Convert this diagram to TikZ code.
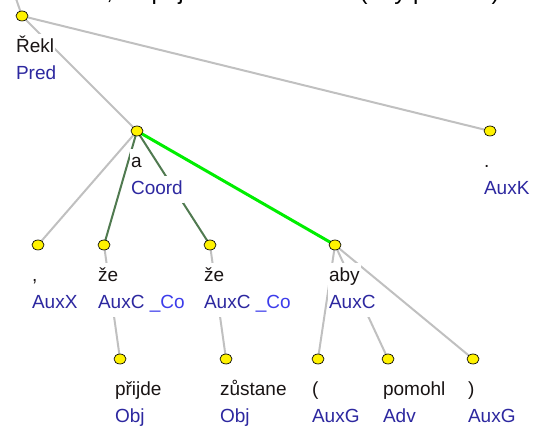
\documentclass[tikz,border=0pt]{standalone}
\usepackage{fontspec}
\setmainfont{Liberation Sans}
\usetikzlibrary{shapes.geometric}
\definecolor{edgegray}{RGB}{192,192,192}
\definecolor{coordgreen}{RGB}{80,122,80}
\definecolor{selgreen}{RGB}{0,238,0}
\definecolor{wordc}{RGB}{25,20,20}
\definecolor{tagc}{RGB}{45,40,160}
\definecolor{tagcb}{RGB}{60,60,235}
\begin{document}
\begin{tikzpicture}[x=0.75pt,y=-0.75pt,
  tnode/.style={shape=ellipse, minimum width=9pt, minimum height=7.5pt, inner sep=0pt,
    draw=black, line width=0.5pt, fill=yellow},
  lblbox/.style={anchor=base west, fill=white, inner xsep=0.6pt, inner ysep=0.4pt,
    text height=14pt, text depth=5.6pt, font=\fontsize{14.25pt}{20.25pt}\selectfont},
  wordlbl/.style={lblbox, text=wordc},
  taglbl/.style={lblbox, text=tagc},
  gedge/.style={draw=edgegray, line width=1.5pt},
  cedge/.style={draw=coordgreen, line width=1.5pt},
  sedge/.style={draw=selgreen, line width=2.25pt}]
\path[use as bounding box, clip] (0,0) rectangle (533,427);
% sentence (only its descenders are visible)
\node[anchor=base west, inner sep=0pt, text=black, font=\fontsize{18pt}{20pt}\selectfont]
  (sent) at (58,-0.5) {Řekl, že přijde a že zůstane (aby pomohl).};
% node positions
\coordinate (top) at (13,-10);
\coordinate (p-rekl) at (22,16);
\coordinate (p-a) at (137,131);
\coordinate (p-dot) at (490,131);
\coordinate (p-comma) at (38,245);
\coordinate (p-ze1) at (104,245);
\coordinate (p-ze2) at (210,245);
\coordinate (p-aby) at (335,245);
\coordinate (p-prijde) at (120,359);
\coordinate (p-zustane) at (226,359);
\coordinate (p-lpar) at (318,359);
\coordinate (p-pomohl) at (388,359);
\coordinate (p-rpar) at (473,359);
% edges
\draw[gedge] (p-rekl) -- (top);
\draw[gedge] (p-rekl) -- (p-a);
\draw[gedge] (p-rekl) -- (p-dot);
\draw[gedge] (p-a) -- (p-comma);
\draw[cedge] (p-a) -- (p-ze1);
\draw[cedge] (p-a) -- (p-ze2);
\draw[sedge] (p-a) -- (p-aby);
\draw[gedge] (p-ze1) -- (p-prijde);
\draw[gedge] (p-ze2) -- (p-zustane);
\draw[gedge] (p-aby) -- (p-lpar);
\draw[gedge] (p-aby) -- (p-pomohl);
\draw[gedge] (p-aby) -- (p-rpar);
% labels: word (black) and analytical function (blue)
\foreach \n/\dx/\w/\t in {rekl/-7/Řekl/Pred, a/-7/a/Coord, dot/-7/./AuxK, comma/-7/{,}/AuxX,
    ze1/-7/že/{AuxC {\color{tagcb}\_Co}}, ze2/-7/že/{AuxC {\color{tagcb}\_Co}},
    aby/-7/aby/AuxC, prijde/-6/přijde/Obj, zustane/-7/zůstane/Obj, lpar/-7/(/AuxG,
    pomohl/-6/pomohl/Adv, rpar/-6/)/AuxG}{
  \node[wordlbl] (w-\n) at ([shift={(\dx,37)}]p-\n) {\w};
  \node[taglbl] (t-\n) at ([shift={(\dx,64)}]p-\n) {\t};
}
% tree nodes
\foreach \n in {rekl,a,dot,comma,ze1,ze2,aby,prijde,zustane,lpar,pomohl,rpar}
  \node[tnode] (n-\n) at (p-\n) {};
\end{tikzpicture}
\end{document}
